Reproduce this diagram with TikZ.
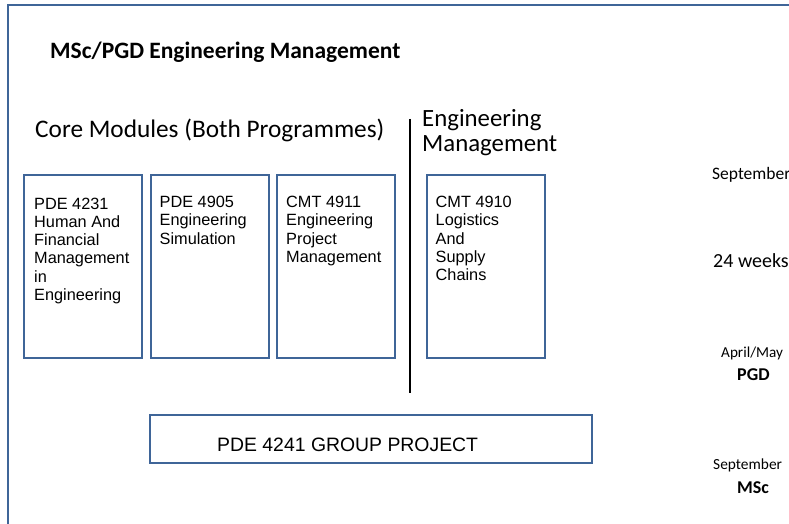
\documentclass[tikz,border=0pt]{standalone}
\usepackage{fontspec}
\setmainfont{Carlito}
\newfontfamily\arialfont{Liberation Sans}
\usepackage{tikz}
\usetikzlibrary{positioning}
\usepackage{xcolor}
\definecolor{boxblue}{HTML}{3F6598}

\tikzset{
  modbox/.style={draw=boxblue, line width=2pt, minimum width=118pt, minimum height=183pt, inner sep=0pt},
  modtext/.style={anchor=north west, inner sep=0pt, align=left, font=\arialfont\fontsize{16.3}{18.3}\selectfont},
  headtext/.style={inner sep=0pt, align=left, font=\fontsize{24.8}{25}\selectfont},
  sidetext/.style={anchor=base west, inner sep=0pt}
}

\begin{document}
\begin{tikzpicture}[x=1pt,y=-1pt]
                \useasboundingbox (0,0) rectangle (789,524);
                % Outer frame
                \draw[boxblue, line width=2.4pt] (8,524) -- (8,5) -- (789,5);
                % Titles
                \node[sidetext, font=\bfseries\fontsize{23.5}{26}\selectfont] (title) at (50,59) {MSc/PGD Engineering Management};
                \node[headtext, anchor=base west, font=\fontsize{25.3}{26}\selectfont] (core) at (35,137) {Core Modules (Both Programmes)};
                \node[headtext, anchor=north west] (emhead) at (422,109) {Engineering\\Management};
                % Divider
                \draw[black, line width=1.1pt] (410,119) -- (410,393);
                % Modules
                \node[modbox] (m1) at (83,266.5) {};
                \node[modbox] (m2) at (209.5,266.5) {};
                \node[modbox] (m3) at (336,266.5) {};
                \node[modbox] (m4) at (485.5,266.5) {};
                \node[modtext, below right=23.5pt and 11pt of m1.north west] (t1) {PDE 4231\\Human And\\Financial\\Management\\in\\Engineering};
                \node[modtext, below right=22pt and 10pt of m2.north west] (t2) {PDE 4905\\Engineering\\Simulation};
                \node[modtext, below right=22pt and 10pt of m3.north west] (t3) {CMT 4911\\Engineering\\Project\\Management};
                \node[modtext, below right=22pt and 10pt of m4.north west] (t4) {CMT 4910\\Logistics\\And\\Supply\\Chains};
                % Group project
                \node[modbox, minimum width=442pt, minimum height=48pt] (gp) at (371,439) {};
                \node[sidetext, font=\arialfont\fontsize{19.4}{22}\selectfont] (gptext) at (217,451) {PDE 4241 GROUP PROJECT};
                % Timeline
                \node[sidetext, font=\fontsize{17.5}{18}\selectfont] (sept1) at (712,179) {September};
                \node[sidetext, font=\fontsize{20}{22}\selectfont] (weeks) at (713,267) {24 weeks};
                \node[sidetext, font=\fontsize{15.2}{18}\selectfont] (april) at (721,357) {April/May};
                \node[sidetext, font=\bfseries\fontsize{18}{20}\selectfont] (pgd) at (737,380) {PGD};
                \node[sidetext, font=\fontsize{15.4}{18}\selectfont] (sept2) at (713,469) {September};
                \node[sidetext, font=\bfseries\fontsize{18}{20}\selectfont] (msc) at (737,493) {MSc};
\end{tikzpicture}
\end{document}
